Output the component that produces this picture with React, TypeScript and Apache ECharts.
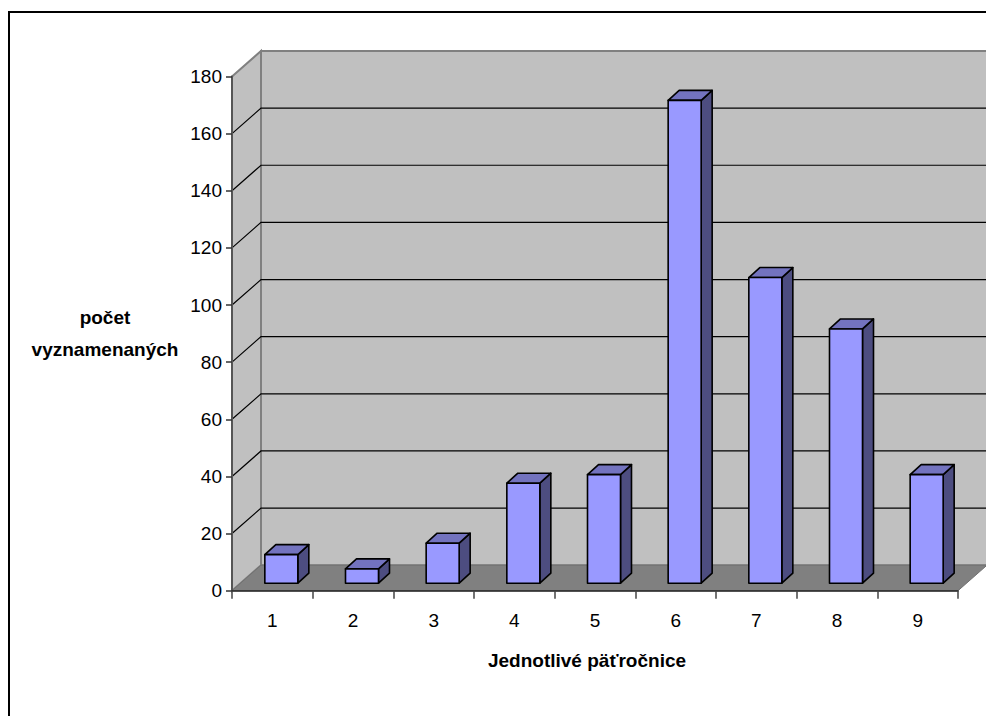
import React, { useEffect, useRef } from "react";
import * as echarts from "echarts";

const categories = ["1", "2", "3", "4", "5", "6", "7", "8", "9"];
const awardedCounts = [10, 5, 14, 35, 38, 169, 107, 89, 38];
const gridTicks = [20, 40, 60, 80, 100, 120, 140, 160];
const yAxisMax = 180;
const yAxisStep = 20;
const yAxisTitle = "počet\nvyznamenaných";
const xAxisTitle = "Jednotlivé päťročnice";

const FONT = '"Liberation Sans", Arial, sans-serif';
const WALL_DX = 29;
const WALL_DY = -25.5;
const BAR_WIDTH = 33;
const BAR_DX = 11;
const BAR_DY = -10;
const BAR_SHIFT_X = 9;
const BAR_SHIFT_Y = -7.5;

export default function App() {
  const ref = useRef<HTMLDivElement>(null);
  useEffect(() => {
    document.body.style.margin = "0";
    document.body.style.overflow = "hidden";
    const chart = echarts.init(ref.current!, null, { renderer: "svg" });
    chart.setOption({
      animation: false,
      backgroundColor: "#ffffff",
      graphic: [
        {
          type: "rect",
          z: -1,
          silent: true,
          shape: { x: 9, y: 12, width: 1000, height: 1000 },
          style: { fill: "none", stroke: "#000000", lineWidth: 2 },
        },
      ],
      grid: { left: 232, right: 28, top: 76.5, bottom: 125.3, containLabel: false, outerBoundsMode: "none" },
      xAxis: {
        type: "category",
        data: categories,
        z: 5,
        name: xAxisTitle,
        nameLocation: "middle",
        nameGap: 60,
        nameTextStyle: {
          fontFamily: FONT,
          fontWeight: "bold",
          fontSize: 19,
          color: "#000",
          padding: [0, 16, 0, 0],
        },
        axisLine: { lineStyle: { color: "#222", width: 1.5 } },
        axisTick: { show: true, length: 8, alignWithLabel: false, lineStyle: { color: "#444", width: 1.5 } },
        axisLabel: { fontFamily: FONT, fontSize: 19, color: "#000", margin: 20 },
        splitLine: { show: false },
      },
      yAxis: {
        type: "value",
        min: 0,
        max: yAxisMax,
        interval: yAxisStep,
        z: 5,
        name: yAxisTitle,
        nameLocation: "middle",
        nameRotate: 0,
        nameGap: 127,
        nameTextStyle: {
          fontFamily: FONT,
          fontWeight: "bold",
          fontSize: 19,
          lineHeight: 32,
          color: "#000",
          align: "center",
          padding: [5, 0, 0, 0],
        },
        axisLine: { show: true, lineStyle: { color: "#555", width: 2 } },
        axisTick: { show: true, length: 6, lineStyle: { color: "#333", width: 1.5 } },
        axisLabel: { fontFamily: FONT, fontSize: 19, color: "#000", margin: 10 },
        splitLine: { show: false },
      },
      series: [
        {
          name: "walls",
          type: "custom",
          z: 1,
          silent: true,
          data: [[0, 0]],
          renderItem: (params: any, api: any) => {
            const cs = params.coordSys;
            const l = cs.x, r = cs.x + cs.width, t = cs.y, b = cs.y + cs.height;
            const edge = { stroke: "#808080", lineWidth: 2 };
            return {
              type: "group",
              children: [
                {
                  type: "polygon",
                  shape: { points: [[l + WALL_DX, t + WALL_DY], [r + WALL_DX, t + WALL_DY], [r + WALL_DX, b + WALL_DY], [l + WALL_DX, b + WALL_DY]] },
                  style: { fill: "#c0c0c0", ...edge },
                },
                {
                  type: "polygon",
                  shape: { points: [[l, t], [l + WALL_DX, t + WALL_DY], [l + WALL_DX, b + WALL_DY], [l, b]] },
                  style: { fill: "#c0c0c0", ...edge },
                },
                {
                  type: "polygon",
                  shape: { points: [[l, b], [r, b], [r + WALL_DX, b + WALL_DY], [l + WALL_DX, b + WALL_DY]] },
                  style: { fill: "#808080", stroke: "#707070", lineWidth: 1 },
                },
              ],
            };
          },
        },
        {
          name: "gridlines",
          type: "custom",
          z: 1,
          silent: true,
          data: gridTicks.map((v) => [0, v]),
          encode: { x: 0, y: 1 },
          renderItem: (params: any, api: any) => {
            const cs = params.coordSys;
            const y = api.coord([0, api.value(1)])[1];
            const l = cs.x, r = cs.x + cs.width;
            return {
              type: "polyline",
              shape: { points: [[l, y], [l + WALL_DX, y + WALL_DY], [r + WALL_DX, y + WALL_DY]] },
              style: { fill: "none", stroke: "#000000", lineWidth: 1.2 },
            };
          },
        },
        {
          name: "počet vyznamenaných",
          type: "custom",
          z: 2,
          data: awardedCounts.map((v, i) => [i, v]),
          encode: { x: 0, y: 1 },
          renderItem: (params: any, api: any) => {
            const [cx, top0] = api.coord([api.value(0), api.value(1)]);
            const [, base0] = api.coord([api.value(0), 0]);
            const x0 = cx - BAR_WIDTH / 2 + BAR_SHIFT_X;
            const x1 = x0 + BAR_WIDTH;
            const top = top0 + BAR_SHIFT_Y;
            const base = base0 + BAR_SHIFT_Y;
            const line = { stroke: "#000000", lineWidth: 1.6, lineJoin: "round" };
            return {
              type: "group",
              children: [
                {
                  type: "polygon",
                  shape: { points: [[x1, top], [x1 + BAR_DX, top + BAR_DY], [x1 + BAR_DX, base + BAR_DY], [x1, base]] },
                  style: { fill: "#4d4d80", ...line },
                },
                {
                  type: "polygon",
                  shape: { points: [[x0, top], [x0 + BAR_DX, top + BAR_DY], [x1 + BAR_DX, top + BAR_DY], [x1, top]] },
                  style: { fill: "#7373bf", ...line },
                },
                {
                  type: "polygon",
                  shape: { points: [[x0, top], [x1, top], [x1, base], [x0, base]] },
                  style: { fill: "#9999ff", ...line },
                },
              ],
            };
          },
        },
      ],
    });
    return () => chart.dispose();
  }, []);
  return <div ref={ref} style={{ position: "absolute", left: 0, top: 0, width: 986, height: 716 }} />;
}
